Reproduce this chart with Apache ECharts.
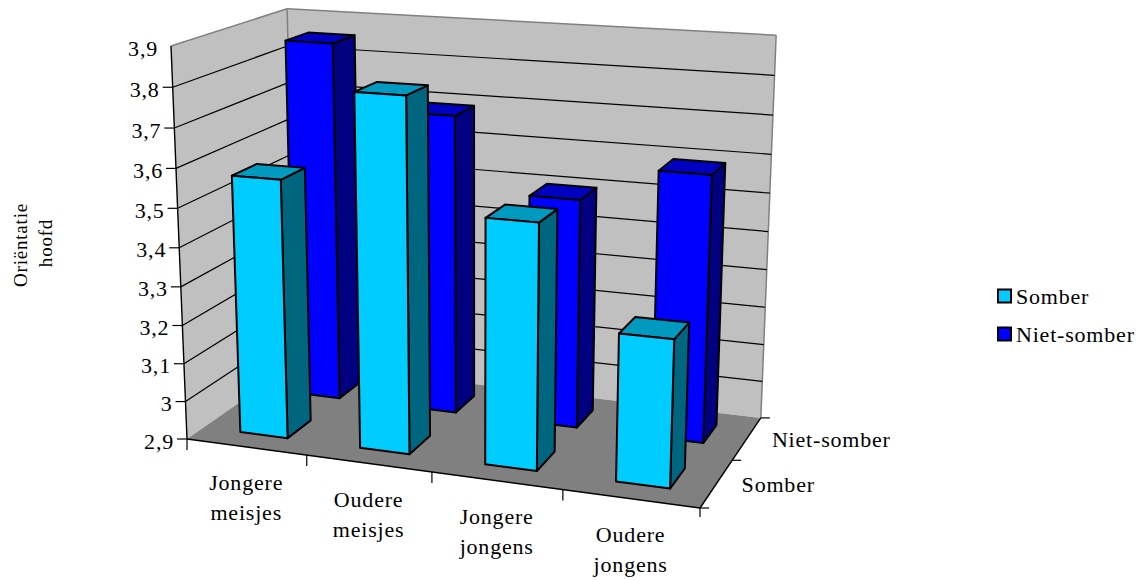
<!DOCTYPE html>
<html>
<head>
<meta charset="utf-8">
<style>
  html, body { margin: 0; padding: 0; background: #fff; }
  #chart { width: 1144px; height: 580px; }
  /* Slightly wider tracking for the serif labels of this chart */
  #chart text { letter-spacing: 0.8px; }
</style>
<script src="https://cdn.jsdelivr.net/npm/echarts@6/dist/echarts.min.js"></script>
</head>
<body>
<div id="chart"></div>
<script>
const categories = ['Jongere\nmeisjes', 'Oudere\nmeisjes', 'Jongere\njongens', 'Oudere\njongens'];
const seriesNames = ['Somber', 'Niet-somber'];
const somber = [3.57, 3.8, 3.52, 3.27];
const nietSomber = [3.855, 3.69, 3.5, 3.59];
const valueTicks = [2.9, 3, 3.1, 3.2, 3.3, 3.4, 3.5, 3.6, 3.7, 3.8, 3.9];
const axisTitle = ['Oriëntatie', 'hoofd'];

const SERIF = '"Liberation Serif", "Times New Roman", serif';

// Perspective box: X runs along the categories, Y up the value axis, Z into the depth.
// Each entry pins one box corner [X, Y, Z] to its place on the page [u, v].
const origin = [187, 439];
const xEnd = [700, 508];
const yEnd = [171, 46];
const zEnd = [296, 363];
const extraCorners = [
  [[1, 0, 1], [762, 415]],
  [[0, 1, 1], [288, 9]],
  [[1, 1, 1], [776, 36]]
];

function solve3(A, b) {
  const m = A.map((row, i) => row.concat(b[i]));
  for (let c = 0; c < 3; c++) {
    let p = c;
    for (let r = c + 1; r < 3; r++) if (Math.abs(m[r][c]) > Math.abs(m[p][c])) p = r;
    [m[c], m[p]] = [m[p], m[c]];
    for (let r = 0; r < 3; r++) {
      if (r === c) continue;
      const f = m[r][c] / m[c][c];
      for (let k = c; k < 4; k++) m[r][k] -= f * m[c][k];
    }
  }
  return m.map((row, i) => row[3] / row[i]);
}

// Least-squares fit of the three perspective denominators.
function fitDenominators() {
  const rows = [], rhs = [];
  extraCorners.forEach(([[X, Y, Z], uv]) => {
    for (let d = 0; d < 2; d++) {
      const w = uv[d];
      rows.push([X * (w - xEnd[d]), Y * (w - yEnd[d]), Z * (w - zEnd[d])]);
      rhs.push(X * (xEnd[d] - origin[d]) + Y * (yEnd[d] - origin[d]) + Z * (zEnd[d] - origin[d]) + origin[d] - w);
    }
  });
  const AtA = [0, 1, 2].map(i => [0, 1, 2].map(j => rows.reduce((s, r) => s + r[i] * r[j], 0)));
  const Atb = [0, 1, 2].map(i => rows.reduce((s, r, k) => s + r[i] * rhs[k], 0));
  return solve3(AtA, Atb);
}
const [gx, gy, gz] = fitDenominators();

function project(X, Y, Z) {
  const w = gx * X + gy * Y + gz * Z + 1;
  return [0, 1].map(d =>
    ((xEnd[d] * (gx + 1) - origin[d]) * X +
     (yEnd[d] * (gy + 1) - origin[d]) * Y +
     (zEnd[d] * (gz + 1) - origin[d]) * Z + origin[d]) / w);
}

const barShare = 0.4;
const barShift = 0.003;
const depthShare = 0.43;
const faces = [
  { front: '#00CCFF', top: '#0099C0', side: '#006680' },
  { front: '#0000FF', top: '#0000C0', side: '#000080' }
];

function poly(points, fill, stroke, width) {
  return {
    type: 'polygon',
    shape: { points },
    style: { fill, stroke: stroke || 'none', lineWidth: width || 1, lineJoin: 'round' }
  };
}
function line(a, b, stroke, width) {
  return {
    type: 'line',
    shape: { x1: a[0], y1: a[1], x2: b[0], y2: b[1] },
    style: { stroke, lineWidth: width || 1 }
  };
}
function label(text, x, y, align, size, lineHeight, rotation) {
  return {
    type: 'text',
    x, y,
    rotation: rotation || 0,
    style: {
      text, align, verticalAlign: 'middle', fill: '#000',
      font: size + 'px ' + SERIF, lineHeight
    }
  };
}

// Maps a data value pair onto the box through the hidden cartesian axes.
function toBox(api, params, cat, value) {
  const c = api.coord([cat, value]);
  const s = params.coordSys;
  return [(c[0] - s.x) / s.width, (s.y + s.height - c[1]) / s.height];
}

function renderBar(seriesIndex) {
  return function (params, api) {
    const cat = api.value(0);
    const value = api.value(1);
    const s = params.coordSys;
    const half = api.size([1, 0])[0] * barShare / 2 / s.width;
    const [cx, Y] = toBox(api, params, cat, value);
    const x0 = cx + barShift - half, x1 = cx + barShift + half;
    const band = 1 / seriesNames.length;
    const zc = band * (seriesIndex + 0.5);
    const z0 = zc - band * depthShare / 2, z1 = zc + band * depthShare / 2;
    const f = faces[seriesIndex];
    const b = 2;
    return {
      type: 'group',
      children: [
        poly([project(x1, 0, z0), project(x1, 0, z1), project(x1, Y, z1), project(x1, Y, z0)], f.side, '#000', b),
        poly([project(x0, Y, z0), project(x1, Y, z0), project(x1, Y, z1), project(x0, Y, z1)], f.top, '#000', b),
        poly([project(x0, 0, z0), project(x1, 0, z0), project(x1, Y, z0), project(x0, Y, z0)], f.front, '#000', b)
      ]
    };
  };
}

function renderBox(params, api) {
  const kids = [];
  const GREY = '#808080';
  kids.push(poly([project(0, 0, 0), project(0, 1, 0), project(0, 1, 1), project(0, 0, 1)], '#C0C0C0'));
  kids.push(poly([project(0, 0, 1), project(0, 1, 1), project(1, 1, 1), project(1, 0, 1)], '#C0C0C0'));
  kids.push(poly([project(0, 0, 0), project(1, 0, 0), project(1, 0, 1), project(0, 0, 1)], GREY));

  kids.push(line(project(0, 1, 0), project(0, 1, 1), GREY, 1.5));
  kids.push(line(project(0, 1, 1), project(1, 1, 1), GREY, 1.5));
  kids.push(line(project(0, 1, 1), project(0, 0, 1), GREY, 1.5));
  kids.push(line(project(1, 1, 1), project(1, 0, 1), GREY, 1.5));

  valueTicks.forEach(v => {
    const Y = toBox(api, params, 0, v)[1];
    const a = project(0, Y, 0);
    if (v > valueTicks[0] && v < valueTicks[valueTicks.length - 1]) {
      const b = project(0, Y, 1), c = project(1, Y, 1);
      kids.push(line(a, b, '#000', 1.2));
      kids.push(line(b, c, '#000', 1.2));
    }
    if (v < valueTicks[valueTicks.length - 1]) {
      kids.push(line([a[0] - 10, a[1]], a, '#000', 1.2));
    }
    kids.push(label(String(v).replace('.', ','), a[0] - 13, a[1] + 2, 'right', 22));
  });

  kids.push(line(project(0, 0, 0), project(0, 1, 0), '#000', 1.4));
  kids.push(line(project(0, 0, 0), project(1, 0, 0), '#000', 1.4));
  kids.push(line(project(1, 0, 0), project(1, 0, 1), '#000', 1.4));

  categories.forEach((name, i) => {
    const p = project(i / categories.length, 0, 0);
    kids.push(line(p, [p[0], p[1] + 11], '#000', 1.2));
    const mid = project((i + 0.5) / categories.length, 0, 0);
    kids.push(label(name, mid[0], mid[1] + 51, 'center', 22, 30));
  });
  const last = project(1, 0, 0);
  kids.push(line(last, [last[0], last[1] + 9], '#000', 1.2));

  seriesNames.forEach((name, i) => {
    const n = seriesNames.length;
    const p = project(1, 0, i / n);
    kids.push(line(p, [p[0] + 9, p[1]], '#000', 1.2));
    const mid = project(1, 0, (i + 0.5) / n);
    kids.push(label(name, mid[0] + 25, mid[1] + 1, 'left', 22));
  });
  const back = project(1, 0, 1);
  kids.push(line(back, [back[0] + 9, back[1]], '#000', 1.2));

  kids.push(label(axisTitle[0], 20, 245, 'center', 19, 20, Math.PI / 2));
  kids.push(label(axisTitle[1], 45, 243, 'center', 19, 20, Math.PI / 2));
  return { type: 'group', children: kids };
}

const chart = echarts.init(document.getElementById('chart'), null, { renderer: 'svg' });
chart.setOption({
  animation: false,
  backgroundColor: '#fff',
  grid: { left: 200, top: 50, width: 500, height: 400 },
  xAxis: { type: 'category', data: categories, show: false },
  yAxis: { type: 'value', min: 2.9, max: 3.9, interval: 0.1, show: false },
  legend: {
    data: seriesNames,
    orient: 'vertical',
    left: 997,
    top: 285,
    padding: 0,
    itemWidth: 13,
    itemHeight: 13,
    itemGap: 16,
    icon: 'rect',
    selectedMode: false,
    textStyle: { fontFamily: SERIF, fontSize: 22, color: '#000' }
  },
  series: [
    {
      type: 'custom', name: 'box', z: 1, silent: true,
      renderItem: renderBox, data: [[0, valueTicks[0]]]
    },
    {
      type: 'custom', name: seriesNames[1], z: 2, silent: true,
      itemStyle: { color: faces[1].front, borderColor: '#000', borderWidth: 1.5 },
      renderItem: renderBar(1),
      data: nietSomber.map((v, i) => [i, v])
    },
    {
      type: 'custom', name: seriesNames[0], z: 3, silent: true,
      itemStyle: { color: faces[0].front, borderColor: '#000', borderWidth: 1.5 },
      renderItem: renderBar(0),
      data: somber.map((v, i) => [i, v])
    }
  ]
});
</script>
</body>
</html>
